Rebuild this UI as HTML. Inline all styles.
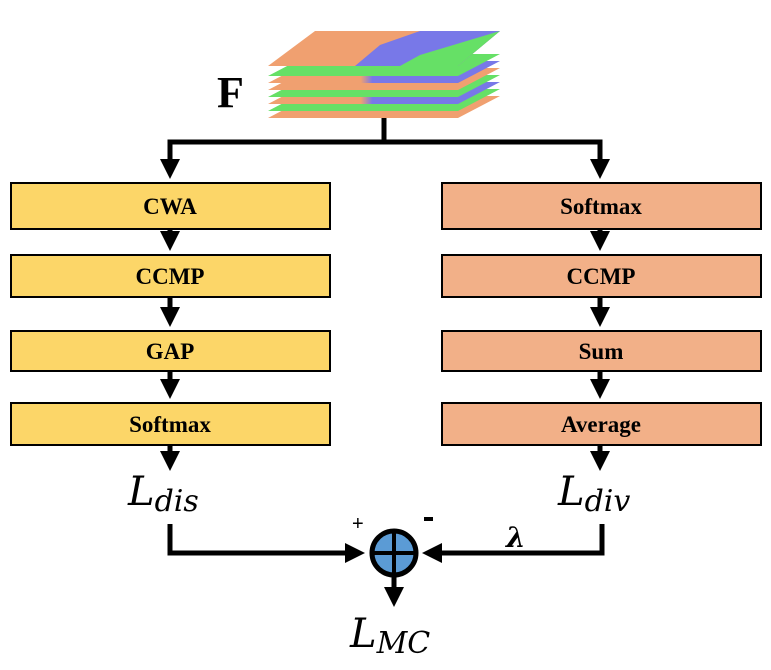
<!DOCTYPE html>
<html><head><style>
body{margin:0;background:#fff;}
svg{display:block;}
.bt{font-family:"Liberation Serif",serif;font-weight:bold;font-size:23px;}
.mi{font-family:"DejaVu Serif","Liberation Serif",serif;font-style:italic;}
</style></head><body>
<svg width="771" height="670" viewBox="0 0 771 670">
<defs>
<marker id="a" markerWidth="4" markerHeight="4" refX="2.2" refY="2" orient="auto" markerUnits="strokeWidth"><path d="M0,0 L4,2 L0,4 z" fill="#000"/></marker>
<linearGradient id="g1" x1="0" x2="1"><stop offset="0" stop-color="#f0a070"/><stop offset="0.4" stop-color="#f0a070"/><stop offset="0.45" stop-color="#7878e8"/><stop offset="1" stop-color="#7878e8"/></linearGradient>
</defs>
<g>
<polygon points="268,118 310,96 500,96 458,118" fill="#f0a070"/>
<polygon points="268,111 310,89 500,89 458,111" fill="#66e066"/>
<polygon points="268,104 310,82 500,82 458,104" fill="url(#g1)"/>
<polygon points="268,97 310,75 500,75 458,97" fill="#66e066"/>
<polygon points="268,90 310,68 500,68 458,90" fill="#f0a070"/>
<polygon points="268,83 310,61 500,61 458,83" fill="url(#g1)"/>
<polygon points="268,76 310,54 500,54 458,76" fill="#66e066"/>
<polygon points="268,66 315,31 500,31 458,66" fill="#f0a070"/>
<polygon points="355,66 380,45 420,31 500,31 458,66" fill="#7878e8"/>
<polygon points="400,66 420,55 500,31 458,66" fill="#66e066"/>
</g>
<text x="217" y="107" class="bt" style="font-size:44px">F</text>
<g stroke="#000" stroke-width="5" fill="none">
<line x1="384" y1="118" x2="384" y2="142"/>
<polyline points="170,165 170,142 600,142 600,165"/>
<line x1="170" y1="160" x2="170" y2="170" marker-end="url(#a)"/>
<line x1="600" y1="160" x2="600" y2="170" marker-end="url(#a)"/>
<line x1="170" y1="229" x2="170" y2="242" marker-end="url(#a)"/>
<line x1="170" y1="297" x2="170" y2="318" marker-end="url(#a)"/>
<line x1="170" y1="371" x2="170" y2="390" marker-end="url(#a)"/>
<line x1="170" y1="445" x2="170" y2="462" marker-end="url(#a)"/>
<line x1="600" y1="229" x2="600" y2="242" marker-end="url(#a)"/>
<line x1="600" y1="297" x2="600" y2="318" marker-end="url(#a)"/>
<line x1="600" y1="371" x2="600" y2="390" marker-end="url(#a)"/>
<line x1="600" y1="445" x2="600" y2="462" marker-end="url(#a)"/>
<polyline points="170,524 170,553 355,553" />
<line x1="345" y1="553" x2="356" y2="553" marker-end="url(#a)"/>
<polyline points="602,524 602,553 435,553"/>
<line x1="440" y1="553" x2="431" y2="553" marker-end="url(#a)"/>
<line x1="394" y1="576" x2="394" y2="598" marker-end="url(#a)"/>
</g>
<g stroke="#000" stroke-width="2">
<rect x="11" y="183" width="319" height="46" fill="#fcd668"/>
<rect x="11" y="255" width="319" height="42" fill="#fcd668"/>
<rect x="11" y="331" width="319" height="40" fill="#fcd668"/>
<rect x="11" y="403" width="319" height="42" fill="#fcd668"/>
<rect x="442" y="183" width="319" height="46" fill="#f2b088"/>
<rect x="442" y="255" width="319" height="42" fill="#f2b088"/>
<rect x="442" y="331" width="319" height="40" fill="#f2b088"/>
<rect x="442" y="403" width="319" height="42" fill="#f2b088"/>
</g>
<g class="bt" text-anchor="middle">
<text x="170" y="214">CWA</text>
<text x="170" y="284">CCMP</text>
<text x="170" y="359">GAP</text>
<text x="170" y="432">Softmax</text>
<text x="601" y="214">Softmax</text>
<text x="601" y="284">CCMP</text>
<text x="601" y="359">Sum</text>
<text x="601" y="432">Average</text>
</g>
<circle cx="394" cy="553" r="22" fill="#5b9bd5" stroke="#000" stroke-width="5"/>
<line x1="372" y1="553" x2="416" y2="553" stroke="#000" stroke-width="4"/>
<line x1="394" y1="531" x2="394" y2="575" stroke="#000" stroke-width="4"/>
<text x="128" y="505" class="mi" style="font-size:40px">L<tspan style="font-size:30px" dy="6">dis</tspan></text>
<text x="558" y="505" class="mi" style="font-size:40px">L<tspan style="font-size:30px" dy="6">div</tspan></text>
<text x="350" y="647" class="mi" style="font-size:40px">L<tspan style="font-size:30px" dy="6">MC</tspan></text>
<text x="352" y="530" style="font-family:'Liberation Sans',sans-serif;font-size:20px">+</text>
<rect x="424" y="517" width="9" height="4" fill="#000"/>
<text x="506" y="547" class="mi" style="font-size:28px;font-weight:bold">λ</text>
</svg>
</body></html>
